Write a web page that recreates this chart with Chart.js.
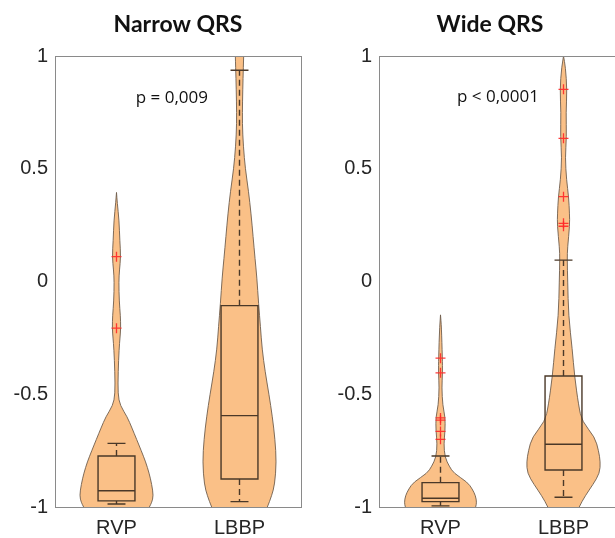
<!DOCTYPE html>
<html>
<head>
<meta charset="utf-8">
<script src="https://cdn.jsdelivr.net/npm/chart.js@4.4.1/dist/chart.umd.min.js"></script>
<style>
  html, body { margin: 0; padding: 0; background: #fff; overflow: hidden; width: 615px; height: 538px; }
  .panel { position: absolute; top: 0; }
</style>
</head>
<body>
<div class="panel" style="left:0px"><canvas id="narrow" width="356" height="538"></canvas></div>
<div class="panel" style="left:310px"><canvas id="wide" width="360" height="538"></canvas></div>
<script>
const categories = ['RVP', 'LBBP'];
const yTicks = [-1, -0.5, 0, 0.5, 1];

// boxes: [lower whisker, q1, median, q3, upper whisker]
const narrowRvpBox  = [-0.987, -0.973, -0.928, -0.774, -0.718];
const narrowLbbpBox = [-0.976, -0.876, -0.595, -0.107, 0.937];
const wideRvpBox    = [-0.995, -0.976, -0.961, -0.892, -0.774];
const wideLbbpBox   = [-0.957, -0.836, -0.722, -0.419, 0.095];

// outliers (red +)
const narrowRvpOutliers  = [0.11, -0.207];
const narrowLbbpOutliers = [];
const wideRvpOutliers    = [-0.34, -0.405, -0.605, -0.615, -0.665, -0.70];
const wideLbbpOutliers   = [0.852, 0.635, 0.376, 0.258, 0.245];

// violin density: value levels and relative widths (max = 1)
const narrowRvpLevels  = [0.395, 0.35, 0.27, 0.18, 0.11, 0.05, 0, -0.09, -0.15, -0.207, -0.25, -0.3, -0.4, -0.5, -0.55, -0.6, -0.65, -0.7, -0.75, -0.8, -0.85, -0.9, -0.95, -0.98, -1.0, -1.03];
const narrowRvpDensity = [0, 0.02, 0.07, 0.09, 0.115, 0.08, 0.062, 0.075, 0.105, 0.115, 0.095, 0.07, 0.045, 0.038, 0.1, 0.29, 0.42, 0.545, 0.67, 0.79, 0.885, 0.955, 1.0, 0.955, 0.89, 0.8];

const narrowLbbpLevels  = [1.08, 1.0, 0.9, 0.8, 0.7, 0.6, 0.5, 0.4, 0.3, 0.2, 0.1, 0.02, -0.1, -0.2, -0.3, -0.4, -0.5, -0.6, -0.7, -0.8, -0.9, -0.95, -1.0, -1.05];
const narrowLbbpDensity = [0.12, 0.114, 0.095, 0.082, 0.076, 0.104, 0.158, 0.245, 0.313, 0.368, 0.422, 0.469, 0.518, 0.567, 0.613, 0.695, 0.798, 0.891, 0.962, 1.0, 0.954, 0.872, 0.757, 0.62];

const wideRvpLevels  = [-0.148, -0.2, -0.34, -0.405, -0.47, -0.55, -0.6, -0.66, -0.72, -0.78, -0.82, -0.85, -0.89, -0.92, -0.95, -0.98, -1.0, -1.03];
const wideRvpDensity = [0, 0.025, 0.05, 0.055, 0.035, 0.06, 0.125, 0.125, 0.09, 0.12, 0.24, 0.36, 0.73, 0.86, 0.95, 0.98, 0.954, 0.9];

const wideLbbpLevels  = [1.0, 0.95, 0.85, 0.75, 0.64, 0.55, 0.45, 0.375, 0.3, 0.25, 0.15, 0.1, 0.0, -0.15, -0.3, -0.42, -0.55, -0.62, -0.69, -0.75, -0.8, -0.85, -0.9, -0.95, -1.0, -1.05];
const wideLbbpDensity = [0, 0.054, 0.095, 0.068, 0.082, 0.046, 0.082, 0.14, 0.163, 0.168, 0.11, 0.1, 0.114, 0.136, 0.237, 0.3, 0.41, 0.5, 0.85, 0.95, 1.0, 0.98, 0.8, 0.59, 0.42, 0.3];

const violinFill = 'rgb(250,192,135)';
const violinEdge = '#6f5d4d';
const boxColor = '#4a3828';
const VIOLIN_W = 0.3;   // max half width, category units
const BOX_W = 0.15;
const CAP_W = 0.073;

function smoothClosed(ctx, pts) {
  ctx.beginPath();
  ctx.moveTo(pts[0][0], pts[0][1]);
  for (let i = 1; i < pts.length - 1; i++) {
    const mx = (pts[i][0] + pts[i + 1][0]) / 2;
    const my = (pts[i][1] + pts[i + 1][1]) / 2;
    ctx.quadraticCurveTo(pts[i][0], pts[i][1], mx, my);
  }
  ctx.lineTo(pts[pts.length - 1][0], pts[pts.length - 1][1]);
  ctx.closePath();
}

const violinPlugin = {
  id: 'violins',
  afterLayout(chart) {
    // nudge the title sideways (reference title is not centred on the plot)
    const shift = chart.options.plugins.violins.titleShift || 0;
    if (chart.titleBlock) {
      chart.titleBlock.left += shift;
      chart.titleBlock.right += shift;
    }
  },
  beforeDatasetsDraw(chart) {
    const {ctx, chartArea, scales: {x, y}} = chart;
    const cfg = chart.options.plugins.violins;
    ctx.save();
    ctx.beginPath();
    ctx.rect(chartArea.left, chartArea.top, chartArea.right - chartArea.left, chartArea.bottom - chartArea.top);
    ctx.clip();
    cfg.violins.forEach((v, idx) => {
      const pts = [];
      v.levels.forEach((lv, i) => pts.push([x.getPixelForValue(idx - v.density[i] * VIOLIN_W), y.getPixelForValue(lv)]));
      for (let i = v.levels.length - 1; i >= 0; i--) {
        pts.push([x.getPixelForValue(idx + v.density[i] * VIOLIN_W), y.getPixelForValue(v.levels[i])]);
      }
      smoothClosed(ctx, pts);
      ctx.fillStyle = violinFill;
      ctx.fill();
      ctx.lineWidth = 0.9;
      ctx.strokeStyle = violinEdge;
      ctx.stroke();
    });
    // box plots
    cfg.boxes.forEach((b, idx) => {
      const [lo, q1, med, q3, hi] = b.map(v => y.getPixelForValue(v));
      const xl = x.getPixelForValue(idx - BOX_W), xr = x.getPixelForValue(idx + BOX_W);
      const xc = x.getPixelForValue(idx);
      const cl = x.getPixelForValue(idx - CAP_W), cr = x.getPixelForValue(idx + CAP_W);
      ctx.strokeStyle = boxColor;
      ctx.lineWidth = 1.4;
      ctx.setLineDash([6, 4]);
      ctx.beginPath();
      ctx.moveTo(xc, q3); ctx.lineTo(xc, hi);
      ctx.moveTo(xc, q1); ctx.lineTo(xc, lo);
      ctx.stroke();
      ctx.setLineDash([]);
      ctx.beginPath();
      ctx.moveTo(cl, hi); ctx.lineTo(cr, hi);
      ctx.moveTo(cl, lo); ctx.lineTo(cr, lo);
      ctx.moveTo(xl, med); ctx.lineTo(xr, med);
      ctx.rect(xl, q3, xr - xl, q1 - q3);
      ctx.stroke();
    });
    ctx.restore();
  },
  afterDatasetsDraw(chart) {
    const {ctx, chartArea, scales: {x, y}} = chart;
    const cfg = chart.options.plugins.violins;
    ctx.save();
    ctx.strokeStyle = '#8a8a8a';
    ctx.lineWidth = 1;
    ctx.strokeRect(Math.round(chartArea.left) + 0.5, Math.round(chartArea.top) + 0.5,
      Math.round(chartArea.right - chartArea.left), Math.round(chartArea.bottom - chartArea.top));
    ctx.fillStyle = '#111';
    ctx.font = '17px "Open Sans"';
    ctx.textAlign = 'center';
    ctx.textBaseline = 'middle';
    ctx.fillText(cfg.pText, x.getPixelForValue(cfg.pAt[0]), y.getPixelForValue(cfg.pAt[1]));
    ctx.restore();
  }
};

function makePanel(id, title, pText, pAt, boxes, outliers, violins, yWidth, padRight, titleShift) {
  const points = [];
  outliers.forEach((list, i) => list.forEach(v => points.push({x: categories[i], y: v})));
  return new Chart(document.getElementById(id), {
    type: 'line',
    data: {
      labels: categories,
      datasets: [{
        label: 'outliers',
        data: points,
        showLine: false,
        pointStyle: 'cross',
        pointRadius: 5,
        pointBorderWidth: 1.3,
        borderColor: 'rgba(255,40,40,0.9)',
        backgroundColor: 'rgba(255,40,40,0.9)'
      }]
    },
    options: {
      responsive: false,
      animation: false,
      devicePixelRatio: 1,
      layout: { padding: { left: 0, right: padRight, top: 0, bottom: 0 } },
      plugins: {
        legend: { display: false },
        tooltip: { enabled: false },
        title: {
          display: true,
          fullSize: false,
          text: title,
          color: '#111',
          font: { family: 'Lato', size: 23, weight: 'bold', lineHeight: 1.2 },
          padding: { top: 11.2, bottom: 17.2 }
        },
        violins: { violins, boxes, pText, pAt, titleShift }
      },
      scales: {
        x: {
          type: 'category',
          offset: true,
          grid: { display: false, drawTicks: false },
          border: { display: false },
          ticks: { color: '#262626', padding: 9, font: { family: '"Liberation Sans"', size: 20 } },
          afterFit(s) { s.height = 31; }
        },
        y: {
          min: -1, max: 1,
          grid: { display: false, drawTicks: false },
          border: { display: false },
          afterBuildTicks(s) { s.ticks = yTicks.map(v => ({ value: v })); },
          ticks: {
            color: '#262626', padding: 7,
            font: { family: '"Liberation Sans"', size: 20 },
            callback: v => String(v)
          },
          afterFit(s) { s.width = yWidth; }
        }
      }
    },
    plugins: [violinPlugin]
  });
}

makePanel('narrow', 'Narrow QRS', 'p = 0,009', [0.45, 0.814],
  [narrowRvpBox, narrowLbbpBox],
  [narrowRvpOutliers, narrowLbbpOutliers],
  [{levels: narrowRvpLevels, density: narrowRvpDensity}, {levels: narrowLbbpLevels, density: narrowLbbpDensity}],
  55, 55, 0);

makePanel('wide', 'Wide QRS', 'p < 0,0001', [0.467, 0.818],
  [wideRvpBox, wideLbbpBox],
  [wideRvpOutliers, wideLbbpOutliers],
  [{levels: wideRvpLevels, density: wideRvpDensity}, {levels: wideLbbpLevels, density: wideLbbpDensity}],
  69, 45, -12);
</script>
</body>
</html>
